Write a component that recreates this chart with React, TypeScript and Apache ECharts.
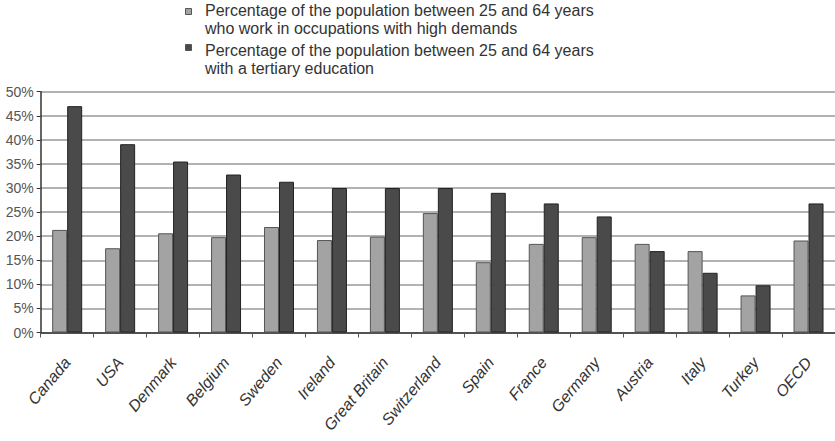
import React, { useEffect, useRef } from "react";
import * as echarts from "echarts";

const categories = [
  "Canada",
  "USA",
  "Denmark",
  "Belgium",
  "Sweden",
  "Ireland",
  "Great Britain",
  "Switzerland",
  "Spain",
  "France",
  "Germany",
  "Austria",
  "Italy",
  "Turkey",
  "OECD",
];

// Share of 25-64 year olds working in high-demand occupations (%)
const highDemandShare = [21.3, 17.5, 20.6, 19.8, 21.9, 19.2, 19.9, 24.8, 14.6, 18.4, 19.8, 18.4, 16.9, 7.7, 19.1];

// Share of 25-64 year olds with a tertiary education (%)
const tertiaryShare = [47.0, 39.1, 35.5, 32.8, 31.3, 30.0, 30.0, 30.0, 29.0, 26.8, 24.1, 16.9, 12.4, 9.8, 26.8];

const seriesNames = [
  "Percentage of the population between 25 and 64 years\nwho work in occupations with high demands",
  "Percentage of the population between 25 and 64 years\nwith a tertiary education",
];

const LIGHT = "#a3a3a3";
const DARK = "#4a4a4a";
const FONT = "'Liberation Sans', Arial, sans-serif";

export default function App() {
  const ref = useRef<HTMLDivElement>(null);

  useEffect(() => {
    if (!ref.current) return;
    const chart = echarts.init(ref.current, null, { renderer: "svg" });

    const legendColors = [LIGHT, DARK];
    const markerTops = [8, 44];
    const textTops = [1, 41];
    const legendGraphics: any[] = [];
    seriesNames.forEach((name, i) => {
      legendGraphics.push({
        type: "rect",
        left: 185,
        top: markerTops[i],
        shape: { x: 0, y: 0, width: 6, height: 6 },
        style: { fill: legendColors[i], stroke: "#555", lineWidth: 1 },
      });
      legendGraphics.push({
        type: "text",
        left: 205,
        top: textTops[i],
        style: {
          text: name,
          fill: "#333",
          font: `16px ${FONT}`,
          lineHeight: 18,
        },
      });
    });

    chart.setOption({
      animation: false,
      backgroundColor: "#fff",
      textStyle: { fontFamily: FONT },
      grid: { left: 40.7, right: -2, top: 91.7, bottom: 108.5, containLabel: false },
      graphic: legendGraphics,
      xAxis: {
        type: "category",
        data: categories,
        axisLine: { lineStyle: { color: "#333", width: 1.5 } },
        axisTick: { show: true, length: 5, interval: 0, lineStyle: { color: "#555" } },
        axisLabel: {
          interval: 0,
          rotate: 50,
          margin: 27,
          align: "right",
          verticalAlign: "middle",
          fontSize: 16,
          fontStyle: "italic",
          color: "#333",
          fontFamily: FONT,
        },
      },
      yAxis: {
        type: "value",
        min: 0,
        max: 50,
        interval: 5,
        axisLine: { show: true, lineStyle: { color: "#333", width: 1.5 } },
        axisTick: { show: true, length: 4, lineStyle: { color: "#333" } },
        axisLabel: {
          formatter: "{value}%",
          fontSize: 14,
          color: "#555",
          margin: 7,
          fontFamily: FONT,
        },
        splitLine: { show: true, lineStyle: { color: "#999", width: 1.5 } },
      },
      series: [
        {
          name: seriesNames[0],
          type: "bar",
          data: highDemandShare,
          barWidth: 15,
          barGap: "0%",
          itemStyle: { color: LIGHT, borderColor: "#555", borderWidth: 1 },
        },
        {
          name: seriesNames[1],
          type: "bar",
          data: tertiaryShare,
          barWidth: 15,
          barGap: "0%",
          itemStyle: { color: DARK, borderColor: "#222", borderWidth: 1 },
        },
      ],
    });

    return () => chart.dispose();
  }, []);

  return (
    <div
      ref={ref}
      style={{ position: "absolute", left: 0, top: 0, width: 835, height: 441 }}
    />
  );
}
